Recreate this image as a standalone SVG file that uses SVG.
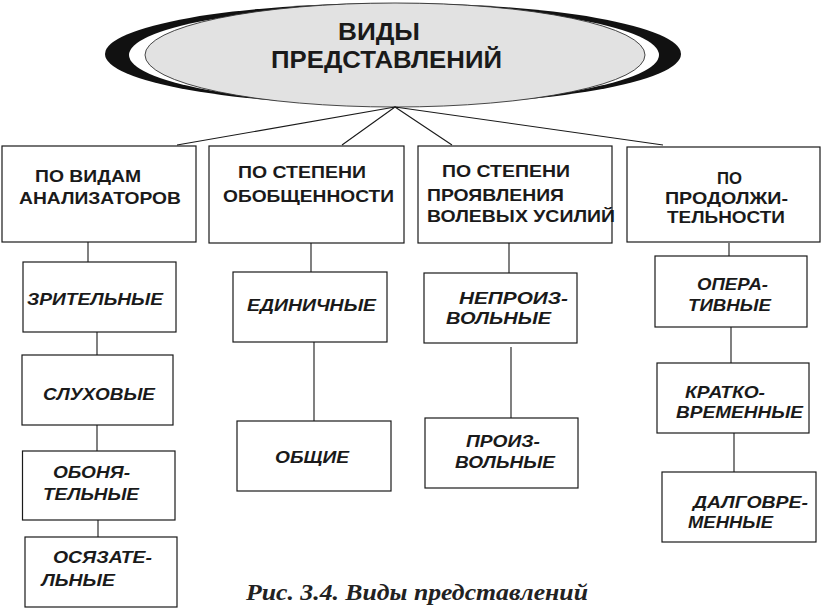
<svg xmlns="http://www.w3.org/2000/svg" width="822" height="608" viewBox="0 0 822 608">
<style>
.box{fill:#fff;stroke:#1a1a1a;stroke-width:1.2}
.ln{stroke:#1a1a1a;stroke-width:1.1;fill:none}
.h{font-family:"Liberation Sans",Arial,sans-serif;font-weight:bold;font-size:17px;fill:#1a1a1a}
.s{font-family:"Liberation Sans",Arial,sans-serif;font-weight:bold;font-style:italic;font-size:16.5px;fill:#1a1a1a}
.t{font-family:"Liberation Sans",Arial,sans-serif;font-weight:bold;font-size:24px;fill:#1a1a1a}
.cap{font-family:"Liberation Serif","Times New Roman",serif;font-weight:bold;font-style:italic;font-size:23px;fill:#222}
</style>
<rect width="822" height="608" fill="#fff"/>
<g id="root">
<ellipse cx="393" cy="54" rx="288" ry="51" fill="#111"/>
<ellipse cx="394" cy="55" rx="265" ry="49" fill="#fff"/>
<ellipse cx="395" cy="55" rx="250" ry="52" fill="#e2e2e2" stroke="#333" stroke-width="0.9"/>
<text class="t" x="338" y="40" textLength="82" lengthAdjust="spacingAndGlyphs">ВИДЫ</text>
<text class="t" x="271" y="68" textLength="231" lengthAdjust="spacingAndGlyphs">ПРЕДСТАВЛЕНИЙ</text>
</g>
<g id="connectors">
<path class="ln" d="M395 107L177 145M395 107L342 145M395 107L452 145M395 107L663 145"/>
<path class="ln" d="M88 242V262M97 332V355M97 425V451M98 520V537"/>
<path class="ln" d="M311 243V272M314 342V421"/>
<path class="ln" d="M509 243V273M511 347V418"/>
<path class="ln" d="M729 243V256M731 327V363M734 433V472"/>
</g>
<g id="n1">
<rect class="box" x="2" y="146" width="194" height="96"/>
<text class="h" x="35" y="182" textLength="106" lengthAdjust="spacingAndGlyphs">ПО ВИДАМ</text>
<text class="h" x="19" y="204" textLength="162" lengthAdjust="spacingAndGlyphs">АНАЛИЗАТОРОВ</text>
</g>
<g id="n2">
<rect class="box" x="209" y="146" width="195" height="97"/>
<text class="h" x="238" y="178" textLength="128" lengthAdjust="spacingAndGlyphs">ПО СТЕПЕНИ</text>
<text class="h" x="223" y="202" textLength="171" lengthAdjust="spacingAndGlyphs">ОБОБЩЕННОСТИ</text>
</g>
<g id="n3">
<rect class="box" x="418" y="146" width="194" height="97"/>
<text class="h" x="442" y="177" textLength="128" lengthAdjust="spacingAndGlyphs">ПО СТЕПЕНИ</text>
<text class="h" x="427" y="201" textLength="137" lengthAdjust="spacingAndGlyphs">ПРОЯВЛЕНИЯ</text>
<text class="h" x="427" y="222" textLength="188" lengthAdjust="spacingAndGlyphs">ВОЛЕВЫХ УСИЛИЙ</text>
</g>
<g id="n4">
<rect class="box" x="627" y="147" width="193" height="95"/>
<text class="h" x="717" y="184" textLength="25" lengthAdjust="spacingAndGlyphs">ПО</text>
<text class="h" x="665" y="204" textLength="123" lengthAdjust="spacingAndGlyphs">ПРОДОЛЖИ-</text>
<text class="h" x="667" y="223" textLength="118" lengthAdjust="spacingAndGlyphs">ТЕЛЬНОСТИ</text>
</g>
<g id="n1a">
<rect class="box" x="23" y="262" width="153" height="70"/>
<text class="s" x="27" y="305" textLength="136" lengthAdjust="spacingAndGlyphs">ЗРИТЕЛЬНЫЕ</text>
</g>
<g id="n1b">
<rect class="box" x="22" y="355" width="151" height="70"/>
<text class="s" x="43" y="400" textLength="112" lengthAdjust="spacingAndGlyphs">СЛУХОВЫЕ</text>
</g>
<g id="n1c">
<rect class="box" x="22.5" y="451" width="152.5" height="69"/>
<text class="s" x="53" y="478" textLength="77" lengthAdjust="spacingAndGlyphs">ОБОНЯ-</text>
<text class="s" x="43" y="500" textLength="96" lengthAdjust="spacingAndGlyphs">ТЕЛЬНЫЕ</text>
</g>
<g id="n1d">
<rect class="box" x="25" y="537" width="152" height="70"/>
<text class="s" x="53" y="563" textLength="99" lengthAdjust="spacingAndGlyphs">ОСЯЗАТЕ-</text>
<text class="s" x="41.5" y="586" textLength="73.5" lengthAdjust="spacingAndGlyphs">ЛЬНЫЕ</text>
</g>
<g id="n2a">
<rect class="box" x="233" y="272" width="154" height="70"/>
<text class="s" x="247" y="311" textLength="129" lengthAdjust="spacingAndGlyphs">ЕДИНИЧНЫЕ</text>
</g>
<g id="n2b">
<rect class="box" x="237" y="421" width="154" height="70"/>
<text class="s" x="275" y="463" textLength="74" lengthAdjust="spacingAndGlyphs">ОБЩИЕ</text>
</g>
<g id="n3a">
<rect class="box" x="424" y="273" width="153" height="70"/>
<text class="s" x="459" y="304" textLength="109" lengthAdjust="spacingAndGlyphs">НЕПРОИЗ-</text>
<text class="s" x="446" y="324" textLength="105" lengthAdjust="spacingAndGlyphs">ВОЛЬНЫЕ</text>
</g>
<g id="n3b">
<rect class="box" x="425" y="418" width="153" height="70"/>
<text class="s" x="466" y="447" textLength="74" lengthAdjust="spacingAndGlyphs">ПРОИЗ-</text>
<text class="s" x="455" y="468" textLength="100" lengthAdjust="spacingAndGlyphs">ВОЛЬНЫЕ</text>
</g>
<g id="n4a">
<rect class="box" x="655" y="256" width="152" height="71"/>
<text class="s" x="697" y="290" textLength="71" lengthAdjust="spacingAndGlyphs">ОПЕРА-</text>
<text class="s" x="688" y="311" textLength="83" lengthAdjust="spacingAndGlyphs">ТИВНЫЕ</text>
</g>
<g id="n4b">
<rect class="box" x="657" y="363" width="152" height="70"/>
<text class="s" x="685" y="398" textLength="80" lengthAdjust="spacingAndGlyphs">КРАТКО-</text>
<text class="s" x="676" y="418" textLength="127" lengthAdjust="spacingAndGlyphs">ВРЕМЕННЫЕ</text>
</g>
<g id="n4c">
<rect class="box" x="662" y="472" width="154" height="70"/>
<text class="s" x="693" y="508" textLength="115" lengthAdjust="spacingAndGlyphs">ДАЛГОВРЕ-</text>
<text class="s" x="688" y="528" textLength="85" lengthAdjust="spacingAndGlyphs">МЕННЫЕ</text>
</g>
<text class="cap" x="246" y="600" textLength="342" lengthAdjust="spacingAndGlyphs">Рис. 3.4. Виды представлений</text>
</svg>
